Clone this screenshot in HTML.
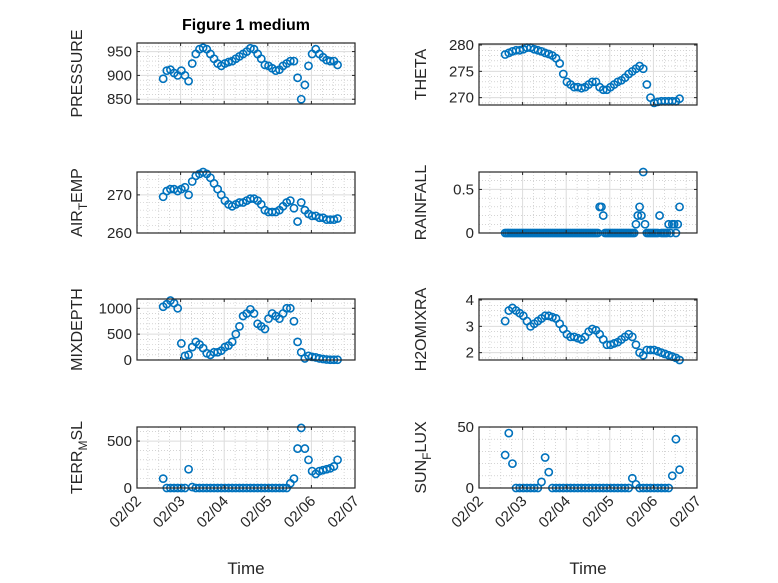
<!DOCTYPE html>
<html><head><meta charset="utf-8"><style>
body{margin:0;background:#fff}
svg{display:block;font-family:"Liberation Sans",sans-serif}
</style></head><body>
<svg id="fig" width="778" height="583" viewBox="0 0 778 583" xmlns="http://www.w3.org/2000/svg">
<rect width="778" height="583" fill="#fff"/>
<text x="246" y="30" text-anchor="middle" font-size="16" font-weight="bold" fill="#000">Figure 1 medium</text>
</svg>
<script>
// Time: days after 02/02, starting 0.6, 2-hour steps (hourly for rainfall)
const xTickLabels = ["02/02","02/03","02/04","02/05","02/06","02/07"];
const pressure = [893,910,912,905,900,910,900,888,925,945,955,958,955,945,935,925,920,925,928,930,935,940,945,950,957,955,945,935,922,920,915,910,912,920,925,930,930,895,850,880,920,945,955,945,938,932,930,930,922];
const airTemp = [269.5,271,271.5,271.5,271,271.5,272,270,273.5,275,275.5,276,275.5,274.5,273,271.5,270,268.5,267.5,267,267.5,268,268,268.5,269,269,268.5,267.5,266,265.5,265.5,265.5,266,267,268,268.5,266.5,263,268,266,265,264.5,264.5,264,264,263.5,263.5,263.5,263.8];
const theta = [278.2,278.5,278.8,279,279,279.2,279.5,279.5,279.2,279,278.8,278.5,278.3,278,277.5,276.5,274.5,273,272.5,272,272,271.8,272,272.5,273,273,272,271.5,271.5,272,272.5,273,273.3,273.8,274.5,275,275.5,276,275.5,272.5,270,269,269.2,269.3,269.3,269.3,269.3,269.3,269.8];
const rainfall = [0,0,0,0,0,0,0,0,0,0,0,0,0,0,0,0,0,0,0,0,0,0,0,0,0,0,0,0,0,0,0,0,0,0,0,0,0,0,0,0,0,0,0,0,0,0,0,0,0,0,0,0,0.3,0.3,0.2,0,0,0,0,0,0,0,0,0,0,0,0,0,0,0,0,0,0.1,0.2,0.3,0.2,0.7,0.1,0,0,0,0,0,0,0,0.2,0,0,0,0,0.1,0,0.1,0.1,0,0.1,0.3];
const mixDepth = [1030,1080,1150,1100,1000,320,80,100,250,350,300,230,130,100,150,150,180,250,280,350,500,650,850,900,980,900,700,650,600,800,900,850,800,900,1000,1000,750,350,150,30,80,60,50,30,20,10,5,5,5];
const h2oMix = [3.2,3.6,3.7,3.6,3.5,3.4,3.2,3.0,3.1,3.2,3.3,3.4,3.4,3.35,3.3,3.1,2.9,2.7,2.6,2.6,2.55,2.5,2.6,2.8,2.9,2.85,2.7,2.5,2.3,2.3,2.35,2.4,2.5,2.6,2.7,2.6,2.3,2.0,1.9,2.1,2.1,2.1,2.05,2.0,1.95,1.9,1.85,1.8,1.72];
const terrMsl = [100,0,0,0,0,0,0,200,10,0,0,0,0,0,0,0,0,0,0,0,0,0,0,0,0,0,0,0,0,0,0,0,0,0,0,50,100,420,640,420,300,180,150,180,190,200,210,230,300];
const sunFlux = [27,45,20,0,0,0,0,0,0,0,5,25,13,0,0,0,0,0,0,0,0,0,0,0,0,0,0,0,0,0,0,0,0,0,0,8,3,0,0,0,0,0,0,0,0,0,10,40,15];

const NS="http://www.w3.org/2000/svg";
const svg=document.getElementById('fig');
function mk(tag,attrs,parent){const e=document.createElementNS(NS,tag);for(const k in attrs)e.setAttribute(k,attrs[k]);(parent||svg).appendChild(e);return e;}
const panels=[
 {name:'pressure',data:pressure,step:1/12,x0:137,y0:43,ylim:[840,968],ticks:[850,900,950],minor:10,label:['PRESSURE']},
 {name:'theta',data:theta,step:1/12,x0:479,y0:44,ylim:[268.6,280.2],ticks:[270,275,280],minor:1,label:['THETA']},
 {name:'air-temp',data:airTemp,step:1/12,x0:137,y0:172,ylim:[260,276],ticks:[260,270],minor:2,label:['AIR','T','EMP']},
 {name:'rainfall',data:rainfall,step:1/24,x0:479,y0:172,ylim:[0,0.7],ticks:[0,0.5],minor:0.1,label:['RAINFALL']},
 {name:'mixdepth',data:mixDepth,step:1/12,x0:137,y0:299,ylim:[0,1180],ticks:[0,500,1000],minor:100,label:['MIXDEPTH']},
 {name:'h2omixra',data:h2oMix,step:1/12,x0:479,y0:299,ylim:[1.72,4.04],ticks:[2,3,4],minor:0.2,label:['H2OMIXRA']},
 {name:'terr-msl',data:terrMsl,step:1/12,x0:137,y0:427,ylim:[0,650],ticks:[0,500],minor:100,label:['TERR','M','SL'],bottom:true},
 {name:'sun-flux',data:sunFlux,step:1/12,x0:479,y0:427,ylim:[0,50],ticks:[0,50],minor:10,label:['SUN','F','LUX'],bottom:true}
];
const W=218,H=61,T0=0.6;
panels.forEach(p=>{
 const g=mk('g',{});
 
 
 const xs=d=>p.x0+d/5*W;
 const ys=v=>p.y0+H-(v-p.ylim[0])/(p.ylim[1]-p.ylim[0])*H;
 for(let d=0.25;d<5;d+=0.25){if(Math.abs(d-Math.round(d))<1e-6)continue;
  mk('line',{x1:xs(d),x2:xs(d),y1:p.y0,y2:p.y0+H,stroke:'#bbb','stroke-width':0.6,'stroke-dasharray':'1 2'},g);}
 for(let v=Math.ceil(p.ylim[0]/p.minor)*p.minor;v<p.ylim[1];v+=p.minor){
  if(p.ticks.some(t=>Math.abs(t-v)<1e-6))continue;
  mk('line',{x1:p.x0,x2:p.x0+W,y1:ys(v),y2:ys(v),stroke:'#bbb','stroke-width':0.6,'stroke-dasharray':'1 2'},g);}
 for(let d=1;d<5;d++)mk('line',{x1:xs(d),x2:xs(d),y1:p.y0,y2:p.y0+H,stroke:'#dcdcdc','stroke-width':1},g);
 p.ticks.forEach(v=>mk('line',{x1:p.x0,x2:p.x0+W,y1:ys(v),y2:ys(v),stroke:'#dcdcdc','stroke-width':1},g));
 p.data.forEach((v,i)=>{
  const c=mk('circle',{cx:xs(T0+i*p.step),cy:ys(v),r:3.6,fill:'none',stroke:'#0072BD','stroke-width':1.6},g);
  
  
 });
 mk('rect',{x:p.x0,y:p.y0,width:W,height:H,fill:'none',stroke:'#262626','stroke-width':1.2},g);
 for(let d=0;d<=5;d++){mk('line',{x1:xs(d),x2:xs(d),y1:p.y0+H,y2:p.y0+H-3,stroke:'#262626'},g);mk('line',{x1:xs(d),x2:xs(d),y1:p.y0,y2:p.y0+3,stroke:'#262626'},g);}
 p.ticks.forEach(v=>{
  mk('line',{x1:p.x0,x2:p.x0+3,y1:ys(v),y2:ys(v),stroke:'#262626'},g);
  mk('line',{x1:p.x0+W,x2:p.x0+W-3,y1:ys(v),y2:ys(v),stroke:'#262626'},g);
  const t=mk('text',{x:p.x0-5,y:ys(v)+5,'text-anchor':'end','font-size':15,fill:'#262626'},g);
  t.textContent=String(v);
  
  
 });
 const lx=p.x0-(p.x0<300?55:53), ly=p.y0+H/2;
 const yl=mk('text',{x:lx,y:ly,'text-anchor':'middle','font-size':16,fill:'#262626',transform:`rotate(-90 ${lx} ${ly})`},g);
 
 
 if(p.label.length===1){yl.textContent=p.label[0];}
 else{const a=mk('tspan',{},yl);a.textContent=p.label[0];
  const b=mk('tspan',{'font-size':12,dy:5},yl);b.textContent=p.label[1];
  const c=mk('tspan',{dy:-5},yl);c.textContent=p.label[2];}
 if(p.bottom){
  xTickLabels.forEach((s,d)=>{
   const tx=xs(d)+5,ty=p.y0+H+14;
   const t=mk('text',{x:tx,y:ty,'text-anchor':'end','font-size':15,fill:'#262626',transform:`rotate(-45 ${tx} ${ty})`},g);
   t.textContent=s;
   
   
  });
  const xl=mk('text',{x:p.x0+W/2,y:574,'text-anchor':'middle','font-size':17,fill:'#262626'},g);
  xl.textContent='Time';
  
  
 }
});
</script>
</body></html>
